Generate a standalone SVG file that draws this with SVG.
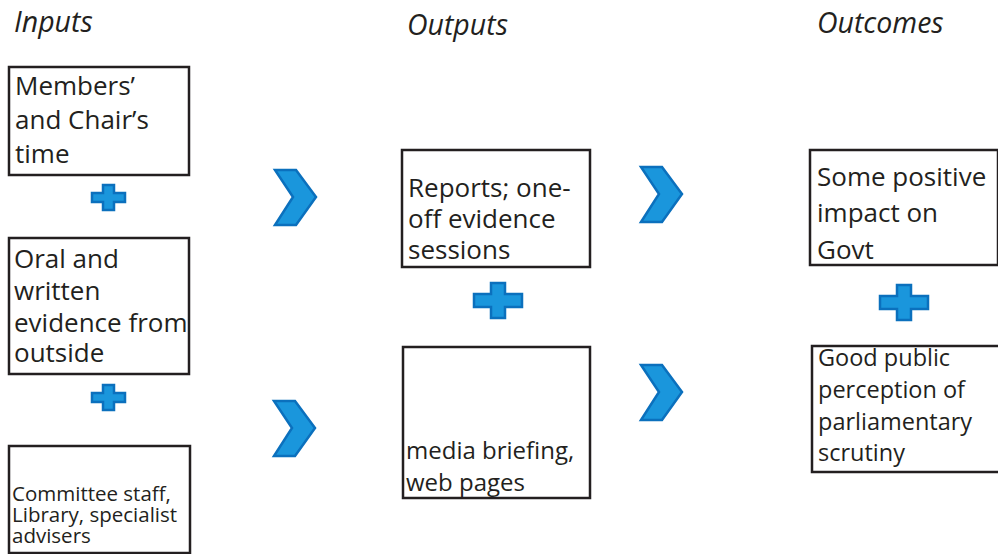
<svg xmlns="http://www.w3.org/2000/svg" width="998" height="554" viewBox="0 0 998 554">
<style>
.box{fill:#fff;stroke:#231f20;stroke-width:2.5}
.t{font-family:"Open Sans","Liberation Sans",sans-serif;fill:#231f20;font-size:26px}
.ts{font-size:20.5px}
.tm{font-size:24px}
.tg{font-size:23.5px}
.h{font-family:"Open Sans","Liberation Sans",sans-serif;font-style:italic;font-size:28.5px;fill:#231f20}
.sym{fill:#1a96dc;stroke:#0b70bd;stroke-width:2.5;stroke-linejoin:miter}
</style>
<defs>
<path id="chev" d="M0,0 H21 L41,27 L21,55 H0 L18,27 Z"/>
<path id="plus" d="M11,0 H22 V8 H33 V17 H22 V25 H11 V17 H0 V8 H11 Z"/>
<path id="plusL" d="M17,0 H31 V11 H48 V24 H31 V35 H17 V24 H0 V11 H17 Z"/>
</defs>
<g id="headers">
<text class="h" x="14" y="32">Inputs</text>
<text class="h" x="407" y="35">Outputs</text>
<text class="h" x="817" y="33">Outcomes</text>
</g>
<g id="n-members">
<rect class="box" x="9" y="67" width="180" height="108"/>
<text class="t" x="15" y="95">Members’</text>
<text class="t" x="15" y="129">and Chair’s</text>
<text class="t" x="15" y="163">time</text>
</g>
<g id="n-oral">
<rect class="box" x="9" y="238" width="180" height="136"/>
<text class="t" x="14" y="268">Oral and</text>
<text class="t" x="14" y="300">written</text>
<text class="t" x="14" y="332">evidence from</text>
<text class="t" x="14" y="362">outside</text>
</g>
<g id="n-staff">
<rect class="box" x="9" y="446" width="181" height="107"/>
<text class="t ts" x="12" y="501">Committee staff,</text>
<text class="t ts" x="12" y="522">Library, specialist</text>
<text class="t ts" x="12" y="543">advisers</text>
</g>
<g id="n-reports">
<rect class="box" x="402" y="150" width="188" height="117"/>
<text class="t" x="408" y="197">Reports; one-</text>
<text class="t" x="408" y="228">off evidence</text>
<text class="t" x="408" y="259">sessions</text>
</g>
<g id="n-media">
<rect class="box" x="403" y="347" width="187" height="151"/>
<text class="t tm" x="406" y="459">media briefing,</text>
<text class="t tm" x="406" y="491">web pages</text>
</g>
<g id="n-govt">
<rect class="box" x="810" y="150" width="188" height="115"/>
<text class="t" x="817" y="186">Some positive</text>
<text class="t" x="817" y="222">impact on</text>
<text class="t" x="817" y="259">Govt</text>
</g>
<g id="n-public">
<rect class="box" x="812" y="346" width="188" height="126"/>
<text class="t tg" x="818" y="366">Good public</text>
<text class="t tg" x="818" y="398">perception of</text>
<text class="t tg" x="818" y="430">parliamentary</text>
<text class="t tg" x="818" y="461">scrutiny</text>
</g>
<g id="connectors">
<use href="#plus" class="sym" x="92" y="185"/>
<use href="#plus" class="sym" x="92" y="385"/>
<use href="#plusL" class="sym" x="474" y="283"/>
<use href="#plusL" class="sym" x="880" y="285"/>
<use href="#chev" class="sym" x="275" y="170"/>
<use href="#chev" class="sym" x="274" y="401"/>
<use href="#chev" class="sym" x="641" y="167"/>
<use href="#chev" class="sym" x="641" y="365"/>
</g>
</svg>
